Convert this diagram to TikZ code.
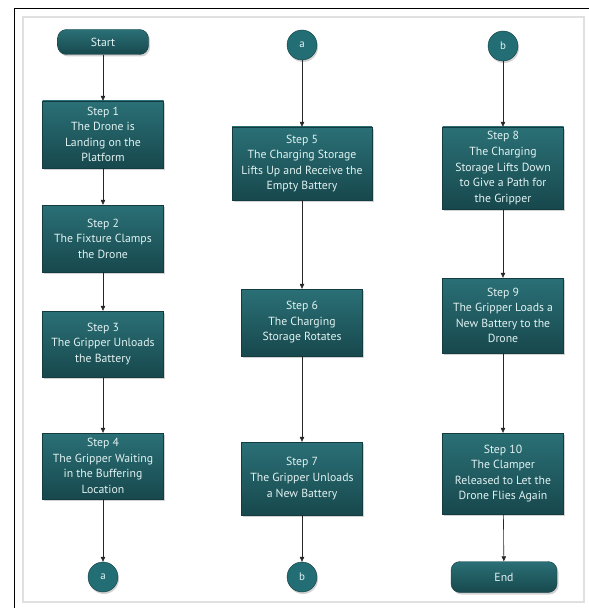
\documentclass[tikz,border=0pt]{standalone}
\usepackage{fontspec}
\setmainfont{PT Sans}
\usetikzlibrary{arrows.meta,shadows}
\definecolor{tealtop}{HTML}{2A7076}
\definecolor{tealbot}{HTML}{17484D}
\definecolor{tealline}{HTML}{123C40}
\definecolor{tealtext}{HTML}{E2F2F2}
\definecolor{tealball}{HTML}{236E74}

\begin{document}
\begin{tikzpicture}[x=1bp,y=-1bp,
  every node/.style={font=\fontsize{11.8}{15.6}\selectfont},
  stepbox/.style={draw=tealline,top color=tealtop,bottom color=tealbot,text=tealtext,
    align=center,minimum width=121bp,inner sep=1bp,
    drop shadow={opacity=0.35,shadow xshift=1.5bp,shadow yshift=-2bp}},
  termbox/.style={stepbox,rounded corners=9bp,minimum width=91bp,minimum height=25bp},
  joinball/.style={circle,draw=tealline,fill=tealball,text=tealtext,minimum size=30bp,
    inner sep=0pt,font=\fontsize{11}{12}\selectfont,
    drop shadow={opacity=0.35,shadow xshift=1bp,shadow yshift=-2bp}},
  flow/.style={-{Triangle[length=5bp,width=4.5bp]},line width=.6pt,black!85}]
\useasboundingbox (0,0) rectangle (589,608);
% frame and panel
\draw[line width=.8pt] (14,608) -- (14,8) -- (589,8);
\draw[draw=black!12,line width=4pt] (24,18) rectangle (583,601);
\fill[white] (24,18) rectangle (583,601);
% column 1
\node[termbox] (start) at (103,42) {Start};
\node[stepbox,minimum height=67bp] (s1) at (103,134.5) {Step 1\\The Drone is\\Landing on the\\Platform};
\node[stepbox,minimum height=67bp] (s2) at (103,238.5) {Step 2\\The Fixture Clamps\\the Drone};
\node[stepbox,minimum height=66bp] (s3) at (103,344) {Step 3\\The Gripper Unloads\\the Battery};
\node[stepbox,minimum height=66bp] (s4) at (103,466) {Step 4\\The Gripper Waiting\\in the Buffering\\Location};
\node[joinball] (a1) at (103,577) {a};
% column 2
\node[joinball] (a2) at (302,45) {a};
\node[stepbox,minimum height=73bp,minimum width=140bp] (s5) at (302,163.5) {Step 5\\The Charging Storage\\Lifts Up and Receive the\\Empty Battery};
\node[stepbox,minimum height=67bp] (s6) at (302,322.5) {Step 6\\The Charging\\Storage Rotates};
\node[stepbox,minimum height=73bp] (s7) at (302,478.5) {Step 7\\The Gripper Unloads\\a New Battery};
\node[joinball] (b1) at (302,577) {b};
% column 3
\node[joinball] (b2) at (503,46) {b};
\node[stepbox,minimum height=82bp] (s8) at (503,168) {Step 8\\The Charging\\Storage Lifts Down\\to Give a Path for\\the Gripper};
\node[stepbox,minimum height=75bp] (s9) at (503,315.5) {Step 9\\The Gripper Loads a\\New Battery to the\\Drone};
\node[stepbox,minimum height=81bp] (s10) at (503,473.5) {Step 10\\The Clamper\\Released to Let the\\Drone Flies Again};
\node[termbox,minimum width=106bp,minimum height=31bp] (end) at (504,577) {End};
% connectors
\draw[flow] (start) -- (s1);
\draw[flow] (s1) -- (s2);
\draw[flow] (s2) -- (s3);
\draw[flow] (s3) -- (s4);
\draw[flow] (s4) -- (a1);
\draw[flow] (a2) -- (s5);
\draw[flow] (s5) -- (s6);
\draw[flow] (s6) -- (s7);
\draw[flow] (s7) -- (b1);
\draw[flow] (b2) -- (s8);
\draw[flow] (s8) -- (s9);
\draw[flow] (s9) -- (s10);
\draw[flow] (s10) -- (end);
\end{tikzpicture}
\end{document}
